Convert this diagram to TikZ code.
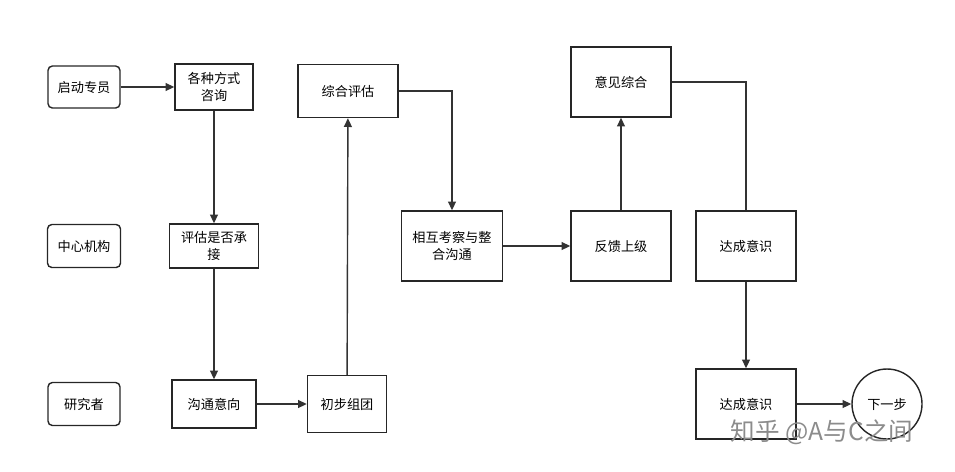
\documentclass[tikz,border=0pt]{standalone}
\usepackage{fontspec}
\setmainfont{Noto Sans CJK SC}
\usetikzlibrary{arrows.meta}
\begin{document}
\begin{tikzpicture}[x=0.02cm,y=-0.02cm,
  box/.style={draw=black!85,line width=0.8pt,align=center,font=\fontsize{7.5}{10}\selectfont,inner sep=1pt},
  rbox/.style={box,rounded corners=2.5pt},
  arr/.style={-{Triangle[length=5pt,width=4.5pt]},line width=0.8pt,draw=black!80},
  ln/.style={line width=0.8pt,draw=black!80}]
\useasboundingbox (0,0) rectangle (955,471);
\node[rbox,minimum width=72*0.02cm,minimum height=42*0.02cm] (qd) at (84,87) {启动专员};
\node[box,minimum width=78*0.02cm,minimum height=46*0.02cm] (zx) at (214,87) {各种方式\\咨询};
\node[rbox,minimum width=73*0.02cm,minimum height=43*0.02cm] (zj) at (84,246) {中心机构};
\node[box,minimum width=89*0.02cm,minimum height=44*0.02cm] (pg) at (214,246) {评估是否承\\接};
\node[rbox,minimum width=72*0.02cm,minimum height=43*0.02cm] (yj) at (84,404) {研究者};
\node[box,minimum width=84*0.02cm,minimum height=48*0.02cm] (gt) at (214,404) {沟通意向};
\node[box,minimum width=79*0.02cm,minimum height=57*0.02cm] (cb) at (347,404) {初步组团};
\node[box,minimum width=100*0.02cm,minimum height=53*0.02cm] (zh) at (348,91) {综合评估};
\node[box,minimum width=101*0.02cm,minimum height=70*0.02cm] (xh) at (452,246) {相互考察与整\\合沟通};
\node[box,minimum width=100*0.02cm,minimum height=70*0.02cm] (fk) at (621,246) {反馈上级};
\node[box,minimum width=100*0.02cm,minimum height=70*0.02cm] (yz) at (621,82) {意见综合};
\node[box,minimum width=100*0.02cm,minimum height=70*0.02cm] (dc1) at (746,246) {达成意识};
\node[box,minimum width=100*0.02cm,minimum height=70*0.02cm] (dc2) at (746,404) {达成意识};
\node[box,circle,minimum size=70*0.02cm] (xy) at (887,404) {下一步};
\draw[arr] (qd) -- (zx);
\draw[arr] (zx) -- (pg);
\draw[arr] (pg) -- (gt);
\draw[arr] (gt) -- (cb);
\draw[arr] (cb) -- (zh);
\draw[arr] (zh.east) -| (xh.north);
\draw[arr] (xh) -- (fk);
\draw[arr] (fk) -- (yz);
\draw[ln] (yz.east) -| (dc1.north);
\draw[arr] (dc1) -- (dc2);
\draw[arr] (dc2) -- (xy);
\node[text=black!45,font=\fontsize{14}{16}\selectfont,anchor=center] (wm) at (822,432) {知乎 @A与C之间};
\end{tikzpicture}
\end{document}
